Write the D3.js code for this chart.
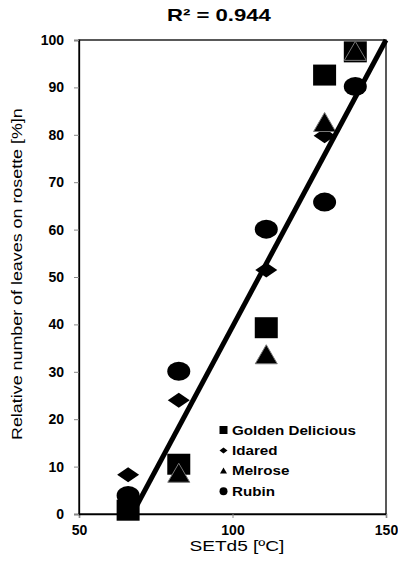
<!DOCTYPE html>
<html><head><meta charset="utf-8">
<script src="https://cdn.jsdelivr.net/npm/d3@7"></script>
<style>body{margin:0;background:#fff;} text{font-family:"Liberation Sans",Arial,sans-serif;}</style>
</head><body><svg id="c" width="398" height="565"></svg>
<script>
const xTemps = [66, 82.5, 111, 130, 140];
const golden = [0.8, 10.5, 39.3, 92.6, 97.5];
const idared = [8.3, 24.0, 51.5, 79.8, 97.0];
const melrose = [null, 8.5, 33.5, 82.5, 97.5];
const rubin = [3.9, 30.1, 60.1, 65.8, 90.2];
const trendX = [68, 150];
const trendY = [0.8, 100];
const xTicks = [50, 100, 150];
const yTicks = [0,10,20,30,40,50,60,70,80,90,100];
const seriesNames = ["Golden Delicious","Idared","Melrose","Rubin"];
const title = "R² = 0.944";
const xLabel = "SETd5 [ºC]";
const yLabel = "Relative number of leaves on rosette [%]n";

const svg = d3.select("#c");
const L=79, R=386, T=40, B=514;
const x = d3.scaleLinear().domain([50,150]).range([L,R]);
const y = d3.scaleLinear().domain([0,100]).range([B,T]);

svg.append("rect").attr("x",L).attr("y",T).attr("width",R-L).attr("height",B-T)
  .attr("fill","none").attr("stroke","#000").attr("stroke-width",1.3);

const xa = svg.append("g").attr("transform",`translate(0,${B})`)
  .call(d3.axisBottom(x).tickValues(xTicks).tickSize(4).tickPadding(7).tickFormat(d3.format("d")));
const ya = svg.append("g").attr("transform",`translate(${L},0)`)
  .call(d3.axisLeft(y).tickValues(yTicks).tickSize(5).tickPadding(10).tickFormat(d3.format("d")));
[xa,ya].forEach(a=>{
  a.select(".domain").attr("stroke","#000").attr("stroke-width",1.3);
  a.selectAll(".tick line").attr("stroke","#888");
  a.selectAll("text").attr("font-size",14).attr("font-weight","bold").attr("fill","#000")
   .style("font-family","'Liberation Sans',Arial,sans-serif");
});

function shape(type, w, h){
  if(type==="square") return `M${-w/2},${-h/2}H${w/2}V${h/2}H${-w/2}Z`;
  if(type==="diamond") return `M0,${-h/2}L${w/2},0L0,${h/2}L${-w/2},0Z`;
  if(type==="triangle") return `M0,${-h*0.55}L${w/2},${h*0.45}L${-w/2},${h*0.45}Z`;
  return `M${-w/2},0A${w/2},${h/2} 0 1,0 ${w/2},0A${w/2},${h/2} 0 1,0 ${-w/2},0Z`;
}
const series = [
  {name:seriesNames[0], vals:golden, type:"square", w:23, h:21},
  {name:seriesNames[1], vals:idared, type:"diamond", w:22, h:15},
  {name:seriesNames[2], vals:melrose, type:"triangle", w:22, h:19},
  {name:seriesNames[3], vals:rubin, type:"ellipse", w:23, h:19},
];
series.forEach(s=>{
  svg.append("g").selectAll("path")
    .data(s.vals.map((v,k)=>({x:xTemps[k],y:v})).filter(d=>d.y!==null)).join("path")
    .attr("transform",d=>`translate(${x(d.x)},${y(d.y)})`)
    .attr("d",shape(s.type,s.w,s.h))
    .attr("fill","#000")
    .attr("stroke",s.type==="triangle"?"#777":"none").attr("stroke-width",1);
});

svg.append("line").attr("x1",x(trendX[0])).attr("y1",y(trendY[0]))
  .attr("x2",x(trendX[1])).attr("y2",y(trendY[1]))
  .attr("stroke","#000").attr("stroke-width",5);

function stretchText(g, txt, size, weight, anchor, target){
  const t = g.append("text").attr("font-size",size).attr("font-weight",weight).text(txt);
  const w = t.node().getComputedTextLength();
  const sx = target ? target/w : 1;
  const off = anchor==="middle" ? -w/2 : 0;
  t.attr("x",off).attr("transform",`scale(${sx},1)`);
  return sx;
}

let legScale = null;
series.forEach((s,i)=>{
  const cy = 430 + i*20.4;
  const sz = {square:[8,8],diamond:[8,6],triangle:[7,6],ellipse:[8,8]}[s.type];
  svg.append("path").attr("transform",`translate(223.5,${cy})`).attr("d",shape(s.type,sz[0],sz[1])).attr("fill","#000");
  const g = svg.append("g").attr("transform",`translate(232,${cy+4.6})`);
  const t = g.append("text").attr("font-size",13).attr("font-weight","bold").text(s.name);
  if(legScale===null) legScale = 124/t.node().getComputedTextLength();
  t.attr("transform",`scale(${legScale},1)`);
});

stretchText(svg.append("g").attr("transform","translate(219,21)"), title, 16, "bold", "middle", 104);
stretchText(svg.append("g").attr("transform","translate(237,551)"), xLabel, 14, "normal", "middle", 95);
stretchText(svg.append("g").attr("transform","translate(22,274) rotate(-90)"), yLabel, 14, "normal", "middle", 332);
</script></body></html>
